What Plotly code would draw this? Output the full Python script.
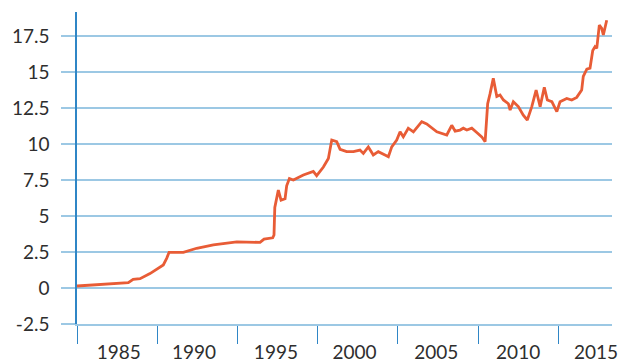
import plotly.graph_objects as go

# Decimal years and values
years = [1983.0, 1986.2, 1986.5, 1986.93, 1987.55, 1988.38, 1988.59, 1988.74, 1989.63,
         1990.46, 1991.5, 1992.96, 1994.41, 1994.66, 1995.2, 1995.28, 1995.33, 1995.55,
         1995.72, 1995.97, 1996.07, 1996.24, 1996.49, 1997.11, 1997.73, 1997.94, 1998.36,
         1998.67, 1998.88, 1999.19, 1999.4, 1999.81, 2000.23, 2000.64, 2000.85, 2001.16,
         2001.47, 2001.78, 2002.2, 2002.41, 2002.62, 2002.93, 2003.14, 2003.34, 2003.65,
         2003.97, 2004.49, 2004.8, 2005.43, 2005.74, 2006.05, 2006.36, 2006.57, 2006.88,
         2007.08, 2007.3, 2007.61, 2007.92, 2008.23, 2008.44, 2008.6, 2008.75, 2008.95,
         2009.17, 2009.37, 2009.58, 2009.89, 2010.0, 2010.2, 2010.51, 2010.82, 2011.07,
         2011.35, 2011.62, 2011.87, 2012.13, 2012.32, 2012.6, 2012.91, 2013.11, 2013.53,
         2013.84, 2014.15, 2014.46, 2014.56, 2014.78, 2014.98, 2015.15, 2015.29, 2015.4,
         2015.56, 2015.71, 2015.81, 2016.02]
values = [0.14, 0.37, 0.6, 0.65, 1.0, 1.6, 2.06, 2.48, 2.48,
          2.76, 3.0, 3.2, 3.17, 3.4, 3.49, 3.68, 5.6, 6.8,
          6.1, 6.2, 7.1, 7.6, 7.5, 7.85, 8.1, 7.8, 8.4,
          9.0, 10.28, 10.16, 9.63, 9.47, 9.47, 9.58, 9.35, 9.8,
          9.24, 9.47, 9.24, 9.12, 9.8, 10.28, 10.85, 10.5, 11.1,
          10.85, 11.55, 11.4, 10.85, 10.74, 10.63, 11.3, 10.9, 10.97,
          11.1, 10.97, 11.1, 10.8, 10.5, 10.16, 12.8, 13.5, 14.56,
          13.3, 13.4, 13.06, 12.8, 12.36, 12.94, 12.6, 12.0, 11.67,
          12.6, 13.75, 12.6, 13.94, 13.06, 12.94, 12.25, 12.94, 13.17,
          13.06, 13.24, 13.75, 14.7, 15.2, 15.27, 16.5, 16.76, 16.65,
          18.26, 18.03, 17.57, 18.6]

x_label_pos = [1985.6, 1990.3, 1995.4, 2000.3, 2005.4, 2010.5, 2015.35]
x_labels = ["1985", "1990", "1995", "2000", "2005", "2010", "2015"]
x_boundaries = [1983, 1988, 1993, 1998, 2003, 2008, 2013]
y_ticks = [-2.5, 0, 2.5, 5, 7.5, 10, 12.5, 15, 17.5]
y_labels = ["-2.5", "0", "2.5", "5", "7.5", "10", "12.5", "15", "17.5"]

grid_col = "#9cc8e4"
axis_col = "#2f86c6"
line_col = "#e85c36"
text_col = "#2e2e2e"

fig = go.Figure()
fig.add_trace(go.Scatter(x=years, y=values, mode="lines",
                         line=dict(color=line_col, width=2.8), hoverinfo="skip"))

fig.update_layout(
    width=620, height=364,
    margin=dict(l=77, r=8, t=12, b=40),
    paper_bgcolor="white", plot_bgcolor="white",
    showlegend=False,
    font=dict(family="Lato", size=19, color=text_col),
    xaxis=dict(
        range=[1983, 2016.35], automargin=False,
        tickmode="array", tickvals=x_label_pos, ticktext=x_labels,
        ticks="", showgrid=False, zeroline=False,
        showline=True, linecolor=grid_col, linewidth=1.5,
        ticklabelstandoff=10,
        minor=dict(tickmode="array", tickvals=x_boundaries, ticks="outside",
                   ticklen=18, tickcolor=axis_col, tickwidth=1.2, showgrid=False),
    ),
    yaxis=dict(
        range=[-2.5, 19.17], automargin=False,
        tickmode="array", tickvals=y_ticks, ticktext=y_labels,
        showgrid=True, gridcolor=grid_col, gridwidth=1.5,
        zeroline=False,
        ticks="outside", ticklen=14, tickcolor=grid_col, tickwidth=1.5,
        showline=True, linecolor=axis_col, linewidth=1.5,
        ticklabelstandoff=8,
    ),
)

fig.write_html("out.html",
               config={"displayModeBar": False},
               post_script="document.body.style.margin='0';"
                           "document.body.style.overflow='hidden';")
